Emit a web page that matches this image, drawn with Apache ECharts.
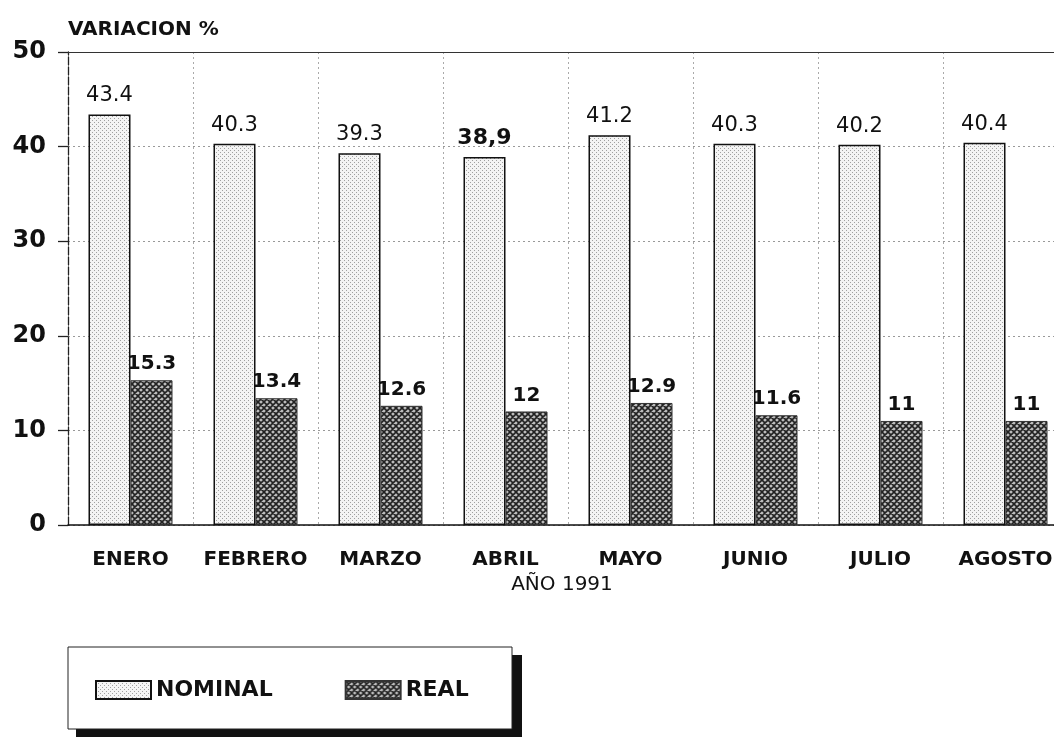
<!DOCTYPE html>
<html>
<head>
<meta charset="utf-8">
<script src="https://cdn.jsdelivr.net/npm/echarts@6/dist/echarts.min.js"></script>
<style>
  html, body { margin: 0; padding: 0; background: #fff; }
  #main { width: 1054px; height: 737px; }
</style>
</head>
<body>
<div id="main"></div>
<script>
  // datos
  const meses = ['ENERO', 'FEBRERO', 'MARZO', 'ABRIL', 'MAYO', 'JUNIO', 'JULIO', 'AGOSTO']
  const nominal = [43.4, 40.3, 39.3, 38.9, 41.2, 40.3, 40.2, 40.4]
  const real = [15.3, 13.4, 12.6, 12, 12.9, 11.6, 11, 11]
  const yTicks = [0, 10, 20, 30, 40, 50]
  // la etiqueta de abril sale con coma y en negrita en el original
  const nominalTexto = ['43.4', '40.3', '39.3', '38,9', '41.2', '40.3', '40.2', '40.4']

  const font = '"DejaVu Sans", Verdana, sans-serif'

  // tramas de relleno
  const makeDots = () => {
    const c = document.createElement('canvas')
    c.width = 4
    c.height = 4
    const ctx = c.getContext('2d')
    ctx.fillStyle = '#f4f4f4'
    ctx.fillRect(0, 0, 4, 4)
    ctx.fillStyle = '#a0a0a0'
    ctx.fillRect(0, 0, 1, 1)
    ctx.fillRect(2, 2, 1, 1)
    return c
  }
  const makeHatch = () => {
    const c = document.createElement('canvas')
    c.width = 6
    c.height = 6
    const ctx = c.getContext('2d')
    ctx.fillStyle = '#bdbdbd'
    ctx.fillRect(0, 0, 6, 6)
    ctx.strokeStyle = '#222'
    ctx.lineWidth = 1.6
    ctx.beginPath()
    ctx.moveTo(-1, -1); ctx.lineTo(7, 7)
    ctx.moveTo(-1, 7); ctx.lineTo(7, -1)
    ctx.moveTo(-1, 5); ctx.lineTo(1, 7)
    ctx.moveTo(5, -1); ctx.lineTo(7, 1)
    ctx.moveTo(-1, 1); ctx.lineTo(1, -1)
    ctx.moveTo(5, 7); ctx.lineTo(7, 5)
    ctx.stroke()
    return c
  }

  const chart = echarts.init(document.getElementById('main'), null, { renderer: 'canvas' })
  const option = {
    backgroundColor: '#fff',
    animation: false,
    textStyle: { fontFamily: font },
    grid: { left: 68, top: 52, width: 1000, bottom: 212, containLabel: false, outerBoundsMode: 'none' },
    legend: {
      left: 95,
      top: 679,
      padding: 0,
      icon: 'rect',
      itemWidth: 55,
      itemHeight: 18,
      itemGap: 72,
      textStyle: { fontSize: 22, fontWeight: 'bold', color: '#111', fontFamily: font },
      data: ['NOMINAL', 'REAL'],
    },
    graphic: [
      {
        type: 'rect',
        z: 0,
        shape: { x: 76, y: 655, width: 446, height: 90 },
        style: { fill: '#111' },
      },
      {
        type: 'rect',
        z: 1,
        shape: { x: 68, y: 647, width: 444, height: 82 },
        style: { fill: '#fff', stroke: '#222', lineWidth: 1 },
      },
    ],
    xAxis: {
      type: 'category',
      data: meses,
      boundaryGap: true,
      name: 'AÑO 1991',
      nameLocation: 'middle',
      nameGap: 49,
      nameTextStyle: { fontSize: 20, color: '#111', fontFamily: font, padding: [0, 12, 0, 0] },
      axisLine: { lineStyle: { color: '#111', width: 1.5 } },
      axisTick: { alignWithLabel: true, interval: 0, length: 10, lineStyle: { color: '#111', width: 1.5 } },
      axisLabel: { interval: 0, margin: 25, fontSize: 20, fontWeight: 'bold', color: '#111', fontFamily: font },
      splitLine: { show: true, interval: 0, lineStyle: { color: '#aaa', type: [2, 3], width: 1 } },
    },
    yAxis: {
      type: 'value',
      min: yTicks[0],
      max: yTicks[yTicks.length - 1],
      interval: 10,
      name: 'VARIACION %',
      nameLocation: 'end',
      nameGap: 12,
      nameTextStyle: { align: 'left', fontSize: 20, fontWeight: 'bold', color: '#111', fontFamily: font },
      axisLine: { show: true, lineStyle: { color: '#222', width: 1.3, type: [8, 2] } },
      axisTick: { show: true, length: 10, lineStyle: { color: '#222', width: 1.3 } },
      axisLabel: { margin: 22, fontSize: 24, fontWeight: 'bold', color: '#111', fontFamily: font },
      splitLine: { show: true, lineStyle: { color: '#999', type: [2, 3], width: 1 } },
    },
    series: [
      {
        name: 'NOMINAL',
        type: 'bar',
        barWidth: 42,
        barGap: '0%',
        itemStyle: {
          color: { image: makeDots(), repeat: 'repeat' },
          borderColor: '#111',
          borderWidth: 1.5,
        },
        label: {
          show: true,
          position: 'top',
          distance: 8,
          fontSize: 21,
          color: '#111',
          fontFamily: font,
          formatter: (p) => nominalTexto[p.dataIndex],
        },
        markLine: {
          silent: true,
          symbol: 'none',
          label: { show: false },
          lineStyle: { color: '#333', type: 'solid', width: 1.2 },
          data: [{ yAxis: 50 }],
        },
        data: nominal.map((v, i) =>
          i === 3 ? { value: v, label: { fontWeight: 'bold', fontSize: 22 } } : v
        ),
      },
      {
        name: 'REAL',
        type: 'bar',
        barWidth: 42,
        itemStyle: {
          color: { image: makeHatch(), repeat: 'repeat' },
          borderColor: '#333',
          borderWidth: 1,
        },
        label: {
          show: true,
          position: 'top',
          distance: 6,
          fontSize: 20,
          fontWeight: 'bold',
          color: '#111',
          fontFamily: font,
        },
        data: real,
      },
    ],
  }
  chart.setOption(option)
</script>
</body>
</html>
